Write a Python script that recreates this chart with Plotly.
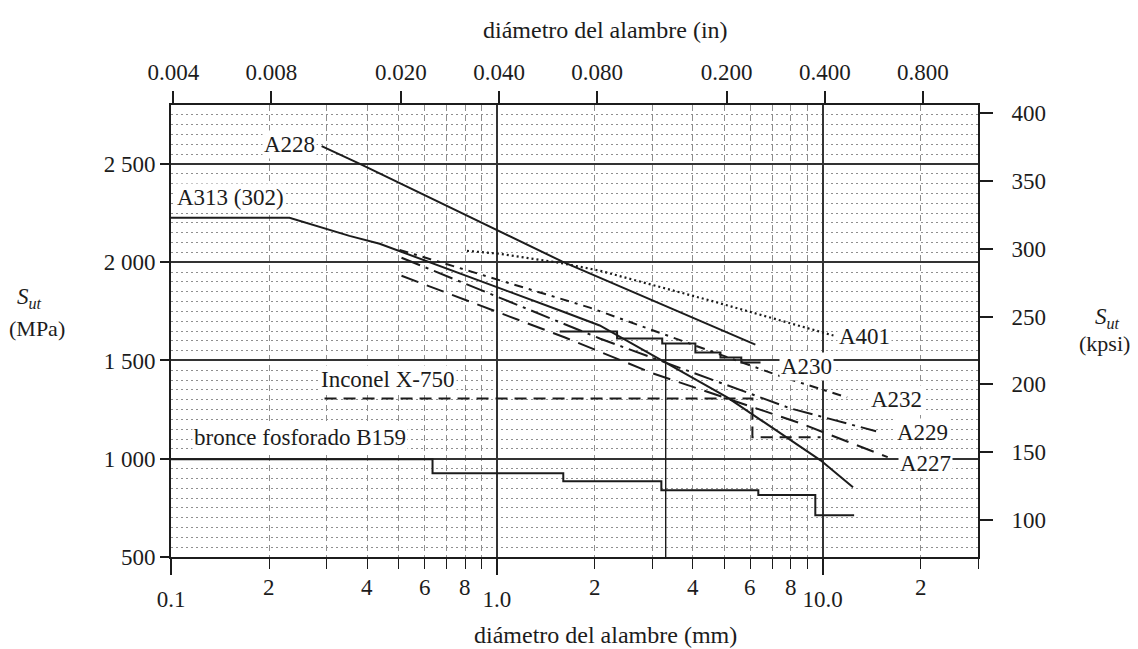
import math
import plotly.graph_objects as go

# ---------------- data (diameter in mm, strength in MPa) ----------------
a228_d = [0.29, 0.38, 1.59, 6.22]
a228_s = [2591, 2500, 2003, 1581]

a313_d = [0.1, 0.231, 0.353, 0.437, 1.563, 2.07, 5.1, 9.86, 12.4]
a313_s = [2226, 2226, 2134, 2094, 1754, 1678, 1312, 992, 855]

a401_d = [0.81, 1.02, 1.56, 2.07, 4.52, 10.8]
a401_s = [2058, 2043, 1997, 1957, 1805, 1627]

a230_d = [1.56, 2.34, 2.34, 3.22, 3.22, 4.07, 4.07, 4.86, 4.86, 5.63, 5.63, 6.45]
a230_s = [1647, 1647, 1612, 1612, 1586, 1586, 1541, 1541, 1515, 1515, 1490, 1490]

vline_d = [3.3, 3.3]
vline_s = [1586, 500]

a232_d = [0.503, 1.93, 7.59, 11.9]
a232_s = [2063, 1769, 1414, 1312]

a229_d = [0.51, 2.07, 7.97, 14.6]
a229_s = [2023, 1612, 1256, 1140]

a227_d = [0.51, 1.62, 3.02, 8.56, 15.85]
a227_s = [1931, 1617, 1434, 1180, 1008]

inconel_d = [0.296, 6.09, 6.09, 9.86]
inconel_s = [1307, 1307, 1109, 1109]

bronze_d = [0.1, 0.635, 0.635, 1.6, 1.6, 3.2, 3.2, 6.35, 6.35, 9.5, 9.5, 12.5]
bronze_s = [997, 997, 926, 926, 886, 886, 840, 840, 815, 815, 713, 713]

# tick labels
mpa_ticks = [500, 1000, 1500, 2000, 2500]
kpsi_ticks = [100, 150, 200, 250, 300, 350, 400]
in_ticks = [0.004, 0.008, 0.020, 0.040, 0.080, 0.200, 0.400, 0.800]
in_labels = ["0.004", "0.008", "0.020", "0.040", "0.080", "0.200", "0.400", "0.800"]
mm_major = [0.1, 1.0, 10.0]
mm_major_labels = ["0.1", "1.0", "10.0"]
mm_minor_labeled = [0.2, 0.4, 0.6, 0.8, 2, 4, 6, 8, 20]
mm_minor_labels = ["2", "4", "6", "8", "2", "4", "6", "8", "2"]

# curve labels: (text, x mm, y MPa)
curve_labels = [
    ("A228", 0.231, 2597),
    ("A313 (302)", 0.152, 2327),
    ("Inconel X-750", 0.462, 1401),
    ("bronce fosforado B159", 0.248, 1106),
    ("A401", 13.46, 1620),
    ("A230", 8.93, 1467),
    ("A232", 16.9, 1299),
    ("A229", 20.3, 1131),
    ("A227", 20.7, 978),
]

MPA_PER_KPSI = 6.894757
MM_PER_IN = 25.4
X_MIN, X_MAX = 0.1, 30.0
Y_MIN, Y_MAX = 500, 2800

SERIF = "Liberation Serif, Times New Roman, serif"
INK = "#1c1c1c"
FS = 23

fig = go.Figure()


def add(d, s, dash="solid", width=2.0):
    fig.add_trace(go.Scatter(x=d, y=s, mode="lines",
                             line=dict(color=INK, width=width, dash=dash),
                             showlegend=False, hoverinfo="skip"))


add(bronze_d, bronze_s)
add(inconel_d, inconel_s, dash="12px,7px")
add(vline_d, vline_s, width=1.4)
add(a227_d, a227_s, dash="18px,9px")
add(a229_d, a229_s, dash="20px,6px,3px,6px")
add(a232_d, a232_s, dash="9px,6px,3px,6px")
add(a230_d, a230_s)
add(a401_d, a401_s, dash="2px,3px", width=2.2)
add(a313_d, a313_s)
add(a228_d, a228_s)

# invisible trace to activate the secondary (in / kpsi) axes
fig.add_trace(go.Scatter(x=[a228_d[0] / MM_PER_IN], y=[a228_s[0] / MPA_PER_KPSI],
                         xaxis="x2", yaxis="y2", mode="markers",
                         marker=dict(opacity=0), showlegend=False, hoverinfo="skip"))

minor_mm = [m * 10 ** e for e in (-1, 0, 1) for m in range(2, 10) if m * 10 ** e <= X_MAX]
minor_mpa = [v for v in range(550, 2800, 50) if v % 500 != 0]

tickfont = dict(family=SERIF, size=FS, color=INK)


def txt_font(size=FS):
    return dict(family=SERIF, size=size, color=INK)


annotations = []
for txt, xd, yd in curve_labels:
    annotations.append(dict(x=math.log10(xd), y=yd, xref="x", yref="y", text=txt,
                            showarrow=False, bgcolor="white", borderpad=1,
                            xanchor="center", yanchor="middle", font=txt_font()))
for v, t in zip(mm_minor_labeled, mm_minor_labels):
    annotations.append(dict(x=math.log10(v), y=0, xref="x", yref="paper", text=t,
                            showarrow=False, xanchor="center", yanchor="top", yshift=-16,
                            font=txt_font()))

annotations += [
    dict(x=0.538, y=1.166, xref="paper", yref="paper", text="diámetro del alambre (in)",
         showarrow=False, xanchor="center", yanchor="middle", font=txt_font(24)),
    dict(x=0.539, y=-0.1726, xref="paper", yref="paper", text="diámetro del alambre (mm)",
         showarrow=False, xanchor="center", yanchor="middle", font=txt_font(24)),
    dict(x=-0.175, y=0.572, xref="paper", yref="paper", text="<i>S</i><sub><i>ut</i></sub>",
         showarrow=False, xanchor="center", yanchor="middle", font=txt_font()),
    dict(x=-0.166, y=0.506, xref="paper", yref="paper", text="(MPa)",
         showarrow=False, xanchor="center", yanchor="middle", font=txt_font(22)),
    dict(x=1.161, y=0.528, xref="paper", yref="paper", text="<i>S</i><sub><i>ut</i></sub>",
         showarrow=False, xanchor="center", yanchor="middle", font=txt_font()),
    dict(x=1.157, y=0.472, xref="paper", yref="paper", text="(kpsi)",
         showarrow=False, xanchor="center", yanchor="middle", font=txt_font(22)),
]

fig.update_layout(
    width=1130, height=641,
    margin=dict(l=163, r=160, t=97, b=92, autoexpand=False),
    paper_bgcolor="white", plot_bgcolor="white",
    showlegend=False,
    xaxis=dict(type="log", range=[math.log10(X_MIN), math.log10(X_MAX)],
               tickmode="array", tickvals=mm_major, ticktext=mm_major_labels,
               ticks="outside", ticklen=16, tickwidth=1.5, tickcolor=INK,
               ticklabelstandoff=4, automargin=False,
               showgrid=True, gridcolor="#333333", gridwidth=1.5,
               showline=True, linecolor=INK, linewidth=2, mirror=False,
               zeroline=False, tickfont=tickfont,
               minor=dict(tickvals=minor_mm, ticks="outside", ticklen=10,
                          tickcolor=INK, tickwidth=1.2, showgrid=True,
                          gridcolor="#8f8f8f", griddash="6px,4px", gridwidth=1)),
    yaxis=dict(range=[Y_MIN, Y_MAX], tickmode="array", tickvals=mpa_ticks,
               ticktext=[f"{v:,}".replace(",", " ") for v in mpa_ticks],
               ticks="outside", ticklen=9, tickwidth=1.5, tickcolor=INK,
               ticklabelstandoff=0, automargin=False,
               showgrid=True, gridcolor="#333333", gridwidth=1.5,
               showline=True, linecolor=INK, linewidth=2,
               zeroline=False, tickfont=tickfont,
               minor=dict(tickvals=minor_mpa, ticks="", showgrid=True,
                          gridcolor="#8f8f8f", griddash="2px,3px", gridwidth=1)),
    xaxis2=dict(type="log", overlaying="x", side="top", anchor="y",
                range=[math.log10(X_MIN / MM_PER_IN), math.log10(X_MAX / MM_PER_IN)],
                tickmode="array", tickvals=in_ticks, ticktext=in_labels,
                ticks="outside", ticklen=12, tickwidth=1.5, tickcolor=INK,
                ticklabelstandoff=2, automargin=False,
                showgrid=False, showline=True, linecolor=INK, linewidth=2,
                zeroline=False, tickfont=tickfont),
    yaxis2=dict(overlaying="y", side="right", anchor="x",
                range=[Y_MIN / MPA_PER_KPSI, Y_MAX / MPA_PER_KPSI],
                tickmode="array", tickvals=kpsi_ticks,
                ticks="outside", ticklen=13, tickwidth=1.5, tickcolor=INK,
                ticklabelstandoff=14, automargin=False,
                showgrid=False, showline=True, linecolor=INK, linewidth=2,
                zeroline=False, tickfont=tickfont),
    annotations=annotations,
)

fig.write_html("out.html")
